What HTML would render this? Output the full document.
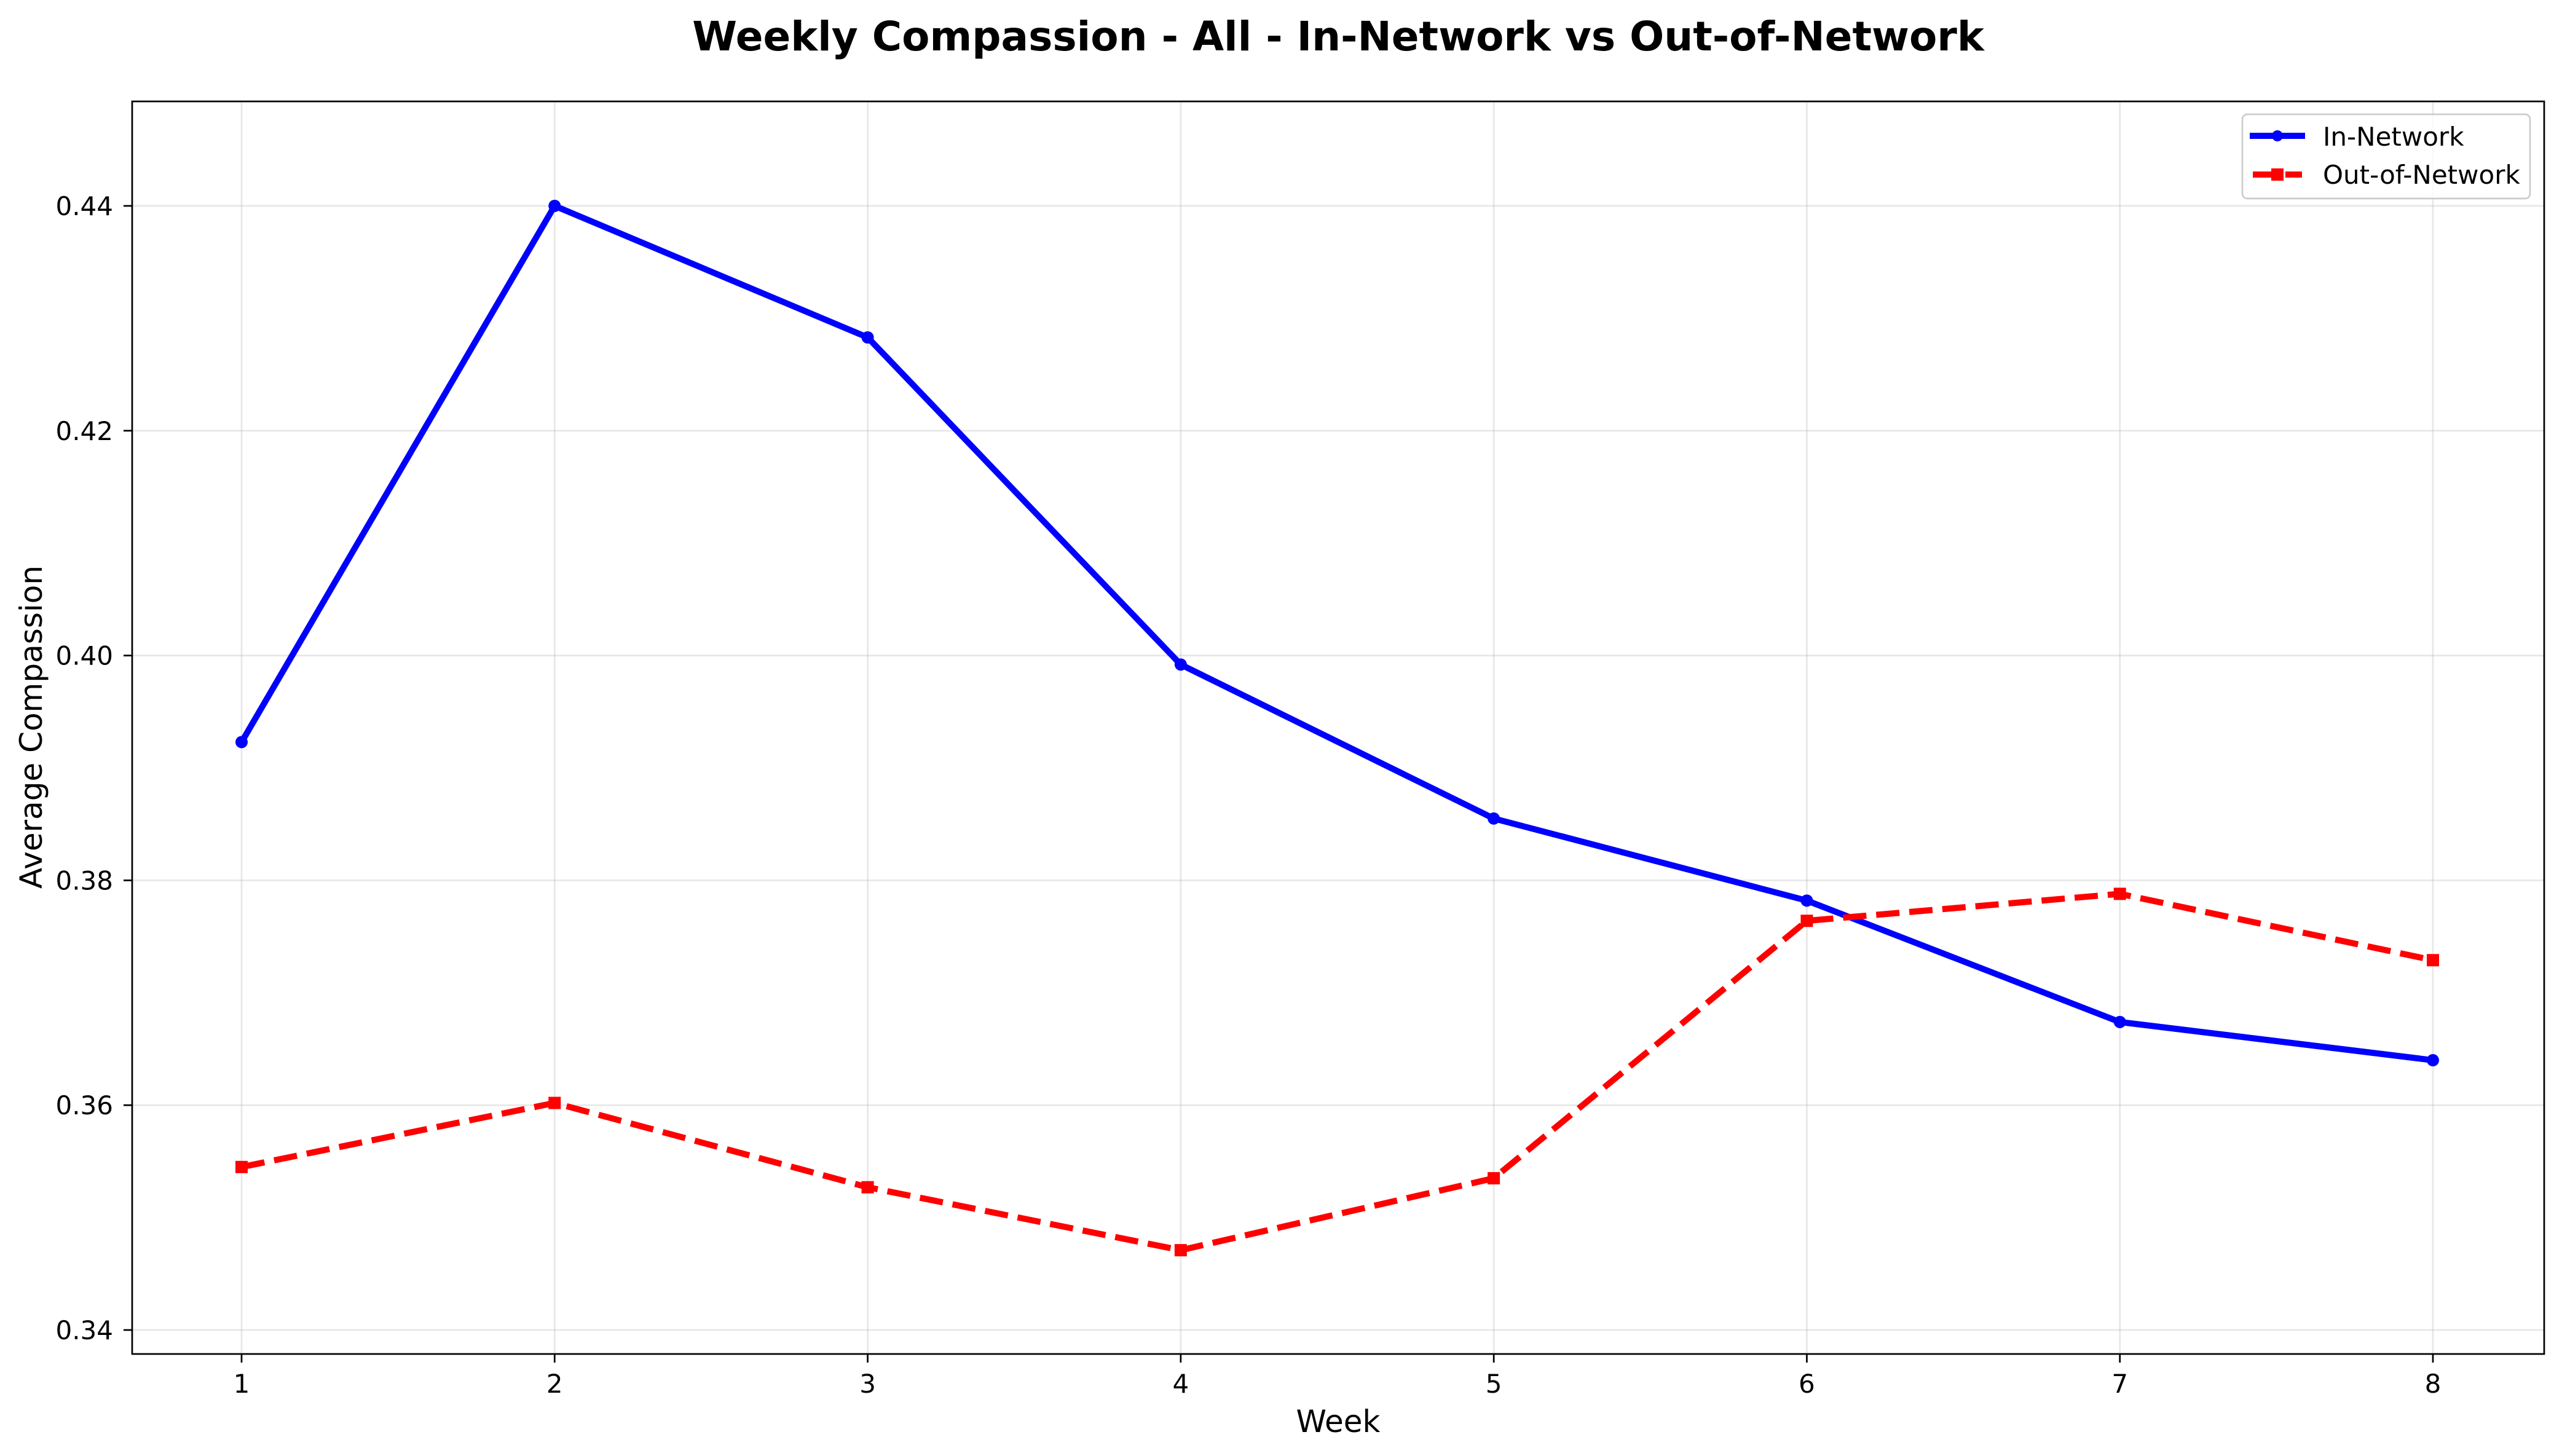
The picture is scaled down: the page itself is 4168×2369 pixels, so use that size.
<!DOCTYPE html>
<html><head><meta charset="utf-8"><style>
html,body{margin:0;padding:0;background:#fff}
svg{display:block;font-family:"DejaVu Sans","Liberation Sans",sans-serif}
</style></head><body>
<svg id="chart" width="4168" height="2369" viewBox="0 0 4168 2369">
<rect width="4168" height="2369" fill="#fff"/>
<text x="2177" y="82" text-anchor="middle" font-size="66" font-weight="bold">Weekly Compassion - All - In-Network vs Out-of-Network</text>
<g id="grid"></g><g id="axes"></g><g id="series"></g>
<rect x="215" y="165" width="3924" height="2038" fill="none" stroke="#000" stroke-width="2.7"/>
<text x="2177" y="2330" text-anchor="middle" font-size="50">Week</text>
<text x="0" y="0" transform="translate(68,1183) rotate(-90)" text-anchor="middle" font-size="50">Average Compassion</text>
<g>
<rect x="3648" y="186" width="468" height="137" rx="8" fill="#fff" fill-opacity="0.8" stroke="#ccc" stroke-width="2.7"/>
<line x1="3660" y1="221" x2="3750" y2="221" stroke="#0000ff" stroke-width="10"/>
<circle cx="3705" cy="221" r="9" fill="#0000ff"/>
<text x="3779" y="237" font-size="42">In-Network</text>
<line x1="3665" y1="284" x2="3745" y2="284" stroke="#ff0000" stroke-width="10" stroke-dasharray="30,23,30"/>
<rect x="3695" y="274" width="20" height="20" fill="#ff0000"/>
<text x="3779" y="299" font-size="42">Out-of-Network</text>
</g>
</svg>
<script>
const weeks = [1,2,3,4,5,6,7,8];
const inNetwork = [0.3923,0.4400,0.4283,0.3992,0.3855,0.3782,0.3674,0.3640];
const outNetwork = [0.3545,0.3602,0.3527,0.3471,0.3535,0.3764,0.3788,0.3729];
const yTicks = [0.34,0.36,0.38,0.40,0.42,0.44];
const yTickLabels = ["0.34","0.36","0.38","0.40","0.42","0.44"];

const NS="http://www.w3.org/2000/svg";
function xs(w){return 393+(w-1)*(3958-393)/7;}
function ys(v){return 2164-(v-0.34)*(2164-335)/0.10;}
function mk(tag,attrs,parent){const e=document.createElementNS(NS,tag);for(const k in attrs)e.setAttribute(k,attrs[k]);parent.appendChild(e);return e;}
const grid=document.getElementById('grid'),axes=document.getElementById('axes'),series=document.getElementById('series');
weeks.forEach(w=>{
  const g=mk('line',{x1:xs(w),x2:xs(w),y1:165,y2:2203,stroke:'#b0b0b0','stroke-opacity':0.3,'stroke-width':2.7},grid);
  
  
  const t=mk('line',{x1:xs(w),x2:xs(w),y1:2203,y2:2217,stroke:'#000','stroke-width':2.7},axes);
  
  
  const l=mk('text',{x:xs(w),y:2266,'text-anchor':'middle','font-size':42},axes);l.textContent=w;
  
  
});
yTicks.forEach((v,i)=>{
  const g=mk('line',{x1:215,x2:4139,y1:ys(v),y2:ys(v),stroke:'#b0b0b0','stroke-opacity':0.3,'stroke-width':2.7},grid);
  
  
  const t=mk('line',{x1:201,x2:215,y1:ys(v),y2:ys(v),stroke:'#000','stroke-width':2.7},axes);
  
  
  const l=mk('text',{x:184,y:ys(v)+15,'text-anchor':'end','font-size':42},axes);l.textContent=yTickLabels[i];
  
  
});
function draw(vals,color,dash,name,square){
  const pts=vals.map((v,i)=>xs(weeks[i])+','+ys(v)).join(' ');
  const a={points:pts,fill:'none',stroke:color,'stroke-width':10,'stroke-linejoin':'round'};
  if(dash)a['stroke-dasharray']=dash;
  const pl=mk('polyline',a,series);
  
  
  vals.forEach((v,i)=>{
    let m;
    if(square)m=mk('rect',{x:xs(weeks[i])-10,y:ys(v)-10,width:20,height:20,fill:color},series);
    else m=mk('circle',{cx:xs(weeks[i]),cy:ys(v),r:10,fill:color},series);
    
    
  });
}
draw(inNetwork,'#0000ff',null,'in-network',false);
draw(outNetwork,'#ff0000','38,16','out-of-network',true);
</script>
</body></html>
